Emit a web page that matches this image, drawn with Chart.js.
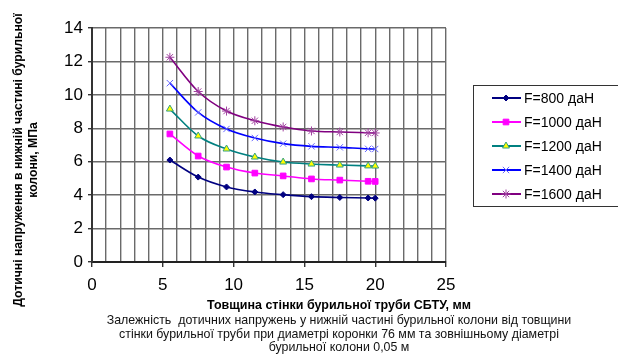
<!DOCTYPE html>
<html>
<head>
<meta charset="utf-8">
<script src="https://cdn.jsdelivr.net/npm/chart.js@4.4.1/dist/chart.umd.min.js"></script>
<style>
  body { margin: 0; background: #fff; }
  #wrap { position: relative; width: 618px; height: 355px; overflow: hidden; font-family: "Liberation Sans", Arial, sans-serif; }
  #chart { position: absolute; left: 0; top: 0; }
  .ytitle {
    position: absolute; left: 26px; top: 160px; width: 340px;
    transform: translate(-50%, -50%) rotate(-90deg);
    text-align: center; font-weight: bold; font-size: 12.2px; line-height: 15px; color: #000;
  }
  .xtitle {
    position: absolute; left: 339px; top: 298px; transform: translateX(-50%);
    white-space: nowrap; font-weight: bold; font-size: 12.5px; color: #000;
  }
  .caption {
    position: absolute; left: 339px; top: 314px; transform: translateX(-50%);
    white-space: nowrap; text-align: center; font-size: 12.4px; line-height: 13.5px; color: #111;
  }
</style>
</head>
<body>
<div id="wrap">
  <canvas id="chart" width="618" height="355"></canvas>
  <div class="ytitle">Дотичні напруження в нижній частині бурильної<br>колони, МПа</div>
  <div class="xtitle">Товщина стінки бурильної труби СБТУ, мм</div>
  <div class="caption">Залежність&nbsp; дотичних напружень у нижній частині бурильної колони від товщини<br>стінки бурильної труби при диаметрі коронки 76 мм та зовнішньому діаметрі<br>бурильної колони 0,05 м</div>
</div>
<script>
// товщина стінки, мм
const thickness = [5.5, 7.5, 9.5, 11.5, 13.5, 15.5, 17.5, 19.5, 20];
const labels = ['F=800 даН', 'F=1000 даН', 'F=1200 даН', 'F=1400 даН', 'F=1600 даН'];
const f800  = [6.10, 5.08, 4.49, 4.19, 4.03, 3.91, 3.86, 3.83, 3.82];
const f1000 = [7.66, 6.34, 5.68, 5.32, 5.15, 4.97, 4.90, 4.83, 4.82];
const f1200 = [9.15, 7.54, 6.76, 6.28, 5.98, 5.86, 5.80, 5.75, 5.74];
const f1400 = [10.70, 8.95, 7.96, 7.42, 7.08, 6.92, 6.86, 6.77, 6.76];
const f1600 = [12.25, 10.20, 9.03, 8.45, 8.08, 7.84, 7.78, 7.73, 7.72];
const xTicks = [0, 5, 10, 15, 20, 25];
const yTicks = [0, 2, 4, 6, 8, 10, 12, 14];

const styles = [
    { line: '#000080', bg: '#000080', border: '#000080', point: 'rectRot', r: 3 },
    { line: '#FF00FF', bg: '#FF00FF', border: '#FF00FF', point: 'rect', r: 4 },
    { line: '#008080', bg: '#FFFF00', border: '#33A080', point: 'triangle', r: 4 },
    { line: '#0000FF', bg: '#6666FF', border: '#6666FF', point: 'crossRot', r: 4.5 },
    { line: '#800080', bg: '#A040A0', border: '#A040A0', point: 'star', r: 4.5 }
];
const series = [f800, f1000, f1200, f1400, f1600];

const datasets = series.map((vals, i) => ({
    label: labels[i],
    data: vals.map((v, j) => ({ x: thickness[j], y: v })),
    borderColor: styles[i].line,
    backgroundColor: styles[i].bg,
    pointBorderColor: styles[i].border,
    pointBackgroundColor: styles[i].bg,
    pointStyle: styles[i].point,
    pointRadius: styles[i].r,
    pointBorderWidth: 1,
    borderWidth: 1.6,
    cubicInterpolationMode: 'monotone'
}));

// легенда в рамці праворуч
const boxLegend = {
    id: 'boxLegend',
    afterDraw(c) {
        const ctx = c.ctx;
        ctx.save();
        ctx.strokeStyle = '#333';
        ctx.lineWidth = 1;
        ctx.strokeRect(473.5, 85.5, 170, 121);
        c.data.datasets.forEach((ds, i) => {
            const y = 98 + i * 24;
            ctx.strokeStyle = ds.borderColor;
            ctx.lineWidth = 2;
            ctx.beginPath();
            ctx.moveTo(492, y);
            ctx.lineTo(521, y);
            ctx.stroke();
            ctx.fillStyle = ds.pointBackgroundColor;
            ctx.strokeStyle = ds.pointBorderColor;
            ctx.lineWidth = 1;
            Chart.helpers.drawPoint(ctx, { pointStyle: ds.pointStyle, radius: ds.pointRadius, rotation: 0, borderWidth: 1 }, 506, y);
            ctx.fillStyle = '#000';
            ctx.font = '14px "Liberation Sans", Arial, sans-serif';
            ctx.textBaseline = 'middle';
            ctx.fillText(ds.label, 524, y + 1);
        });
        ctx.restore();
    }
};

new Chart(document.getElementById('chart'), {
    type: 'line',
    data: { datasets: datasets },
    options: {
        responsive: false,
        animation: false,
        layout: { padding: { left: 52, top: 28, right: 172, bottom: 53 } },
        plugins: { legend: { display: false }, tooltip: { enabled: false } },
        scales: {
            x: {
                type: 'linear', min: 0, max: 25,
                afterFit: s => { s.height = 40; },
                afterBuildTicks: s => { s.ticks = Array.from({ length: 26 }, (_, k) => ({ value: k })); },
                ticks: {
                    autoSkip: false, maxRotation: 0, padding: 8, color: '#000',
                    font: { family: '"Liberation Sans", Arial', size: 17 },
                    callback: v => xTicks.includes(v) ? v : ''
                },
                grid: {
                    color: '#6a6a6a', lineWidth: 1.4, tickLength: 5,
                    tickColor: ctx => xTicks.includes(ctx.tick && ctx.tick.value) ? '#333' : 'rgba(0,0,0,0)'
                },
                border: { color: '#222', width: 2 }
            },
            y: {
                min: 0, max: 14,
                afterFit: s => { s.width = 40; },
                afterBuildTicks: s => { s.ticks = yTicks.map(v => ({ value: v })); },
                ticks: {
                    padding: 5, color: '#000',
                    font: { family: '"Liberation Sans", Arial', size: 17 }
                },
                grid: { color: '#6a6a6a', lineWidth: 1.4, tickLength: 4, tickColor: '#333' },
                border: { color: '#333', width: 2 }
            }
        }
    },
    plugins: [boxLegend]
});
</script>
</body>
</html>
